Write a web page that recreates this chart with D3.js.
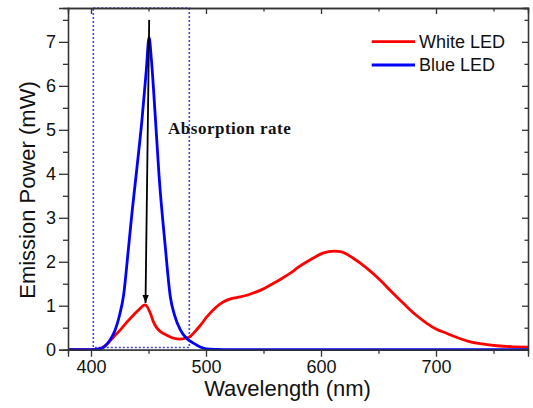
<!DOCTYPE html>
<html>
<head>
<meta charset="utf-8">
<script src="https://cdn.jsdelivr.net/npm/d3@7"></script>
<style>
  html, body { margin: 0; padding: 0; background: #fff; }
  svg { display: block; }
</style>
</head>
<body>
<svg id="chart" width="533" height="408"></svg>
<script>
// Emission spectra (wavelength in nm, power in mW)
const whiteWavelength = [380, 400, 405, 410, 414, 420, 425.5, 431, 437, 442, 447, 451.6, 454, 457.4, 461, 466, 472, 477.7, 482, 486.3, 490, 495, 500.9, 508, 515.3, 522, 529.8, 537, 544.3, 551, 558.8, 566, 573.3, 580, 587.8, 595, 602.3, 611, 617, 628, 640, 651.6, 662, 671.8, 682, 692, 700, 709.6, 720, 729.8, 740, 753, 765, 780];
const whitePower      = [0, 0, 0.01, 0.05, 0.13, 0.3, 0.45, 0.62, 0.79, 0.92, 1.02, 0.83, 0.65, 0.49, 0.4, 0.33, 0.26, 0.24, 0.26, 0.3, 0.4, 0.55, 0.75, 0.95, 1.09, 1.16, 1.2, 1.25, 1.32, 1.4, 1.51, 1.62, 1.74, 1.87, 2.0, 2.11, 2.2, 2.24, 2.23, 2.08, 1.85, 1.58, 1.3, 1.05, 0.8, 0.6, 0.47, 0.37, 0.26, 0.18, 0.13, 0.09, 0.07, 0.06];

const blueWavelength = [380, 400, 405, 410, 413, 417, 421, 425, 428.4, 432.7, 436, 440, 444.3, 448.1, 450.5, 452.5, 455.9, 459.2, 464.6, 469, 472.5, 477.7, 483, 489, 495, 500, 510, 520, 780];
const bluePower      = [0, 0, 0.01, 0.04, 0.1, 0.24, 0.45, 0.8, 1.25, 2.34, 3.2, 4.15, 5.22, 6.36, 7.1, 6.6, 5.3, 3.95, 2.34, 1.2, 0.8, 0.45, 0.26, 0.15, 0.06, 0.02, 0.005, 0, 0];

const seriesNames = ["White LED", "Blue LED"];
const seriesColors = ["#ff0000", "#0000ff"];

const xMajorTicks = [400, 500, 600, 700];
const xMinorTicks = [450, 550, 650, 750];
const yMajorTicks = [0, 1, 2, 3, 4, 5, 6, 7];
const yMinorTicks = [0.5, 1.5, 2.5, 3.5, 4.5, 5.5, 6.5, 7.5];

// Region of interest around the blue emission band
const boxRange = { x0: 402, x1: 485.5, y0: 0.05 };
// Absorption arrow: from the blue peak down to the white-LED blue peak
const arrowFrom = [450.6, 7.5];
const arrowTo = [447.4, 1.06];
const annotation = { text: "Absorption rate", x: 467, y: 4.9 };

const svg = d3.select("#chart");
const plotLeft = 68, plotRight = 528, plotTop = 8, plotBottom = 349.7;

const x = d3.scaleLinear().domain([380, 780]).range([plotLeft, plotRight]);
const y = d3.scaleLinear().domain([0, 7.77]).range([plotBottom, plotTop]);

const axisColor = "#333";

// dotted box
svg.append("rect")
  .attr("x", x(boxRange.x0))
  .attr("y", plotTop)
  .attr("width", x(boxRange.x1) - x(boxRange.x0))
  .attr("height", y(boxRange.y0) - plotTop)
  .attr("fill", "none")
  .attr("stroke", "#4646ff")
  .attr("stroke-width", 1.6)
  .attr("stroke-dasharray", "2,2");

// curves
const line = d3.line().x(d => x(d[0])).y(d => y(d[1])).curve(d3.curveMonotoneX);
const whiteData = whiteWavelength.map((w, i) => [w, whitePower[i]]);
const blueData = blueWavelength.map((w, i) => [w, bluePower[i]]);

svg.append("path").datum(whiteData)
  .attr("d", line).attr("fill", "none")
  .attr("stroke", seriesColors[0]).attr("stroke-width", 2.8).attr("stroke-linejoin", "round");
svg.append("path").datum(blueData)
  .attr("d", line).attr("fill", "none")
  .attr("stroke", seriesColors[1]).attr("stroke-width", 2.8).attr("stroke-linejoin", "round");

// arrow
svg.append("defs").append("marker")
  .attr("id", "arrowhead")
  .attr("viewBox", "0 0 10 10")
  .attr("refX", 10).attr("refY", 5)
  .attr("markerWidth", 4.5).attr("markerHeight", 3.5)
  .attr("markerUnits", "strokeWidth")
  .attr("orient", "auto")
  .attr("preserveAspectRatio", "none")
  .append("path").attr("d", "M0,0 L10,5 L0,10 Z").attr("fill", "#000");

svg.append("line")
  .attr("x1", x(arrowFrom[0])).attr("y1", y(arrowFrom[1]))
  .attr("x2", x(arrowTo[0])).attr("y2", y(arrowTo[1]))
  .attr("stroke", "#000").attr("stroke-width", 1.8)
  .attr("marker-end", "url(#arrowhead)");

svg.append("text")
  .attr("x", x(annotation.x)).attr("y", y(annotation.y))
  .attr("font-family", "'Times New Roman', 'Liberation Serif', serif")
  .attr("font-weight", "bold")
  .attr("font-size", 17)
  .attr("letter-spacing", 0.5)
  .attr("fill", "#111")
  .text(annotation.text);

// axes
function styleAxis(g) {
  g.select(".domain").attr("stroke", axisColor).attr("stroke-width", 1.3);
  g.selectAll(".tick line").attr("stroke", axisColor).attr("stroke-width", 1.3);
  g.selectAll(".tick text")
    .attr("font-family", "Arial, 'Liberation Sans', sans-serif")
    .attr("font-size", 18).attr("fill", "#111");
}

// bottom
svg.append("g").attr("transform", `translate(0,${plotBottom})`)
  .call(d3.axisBottom(x).tickValues(xMajorTicks).tickSize(7).tickPadding(4).tickFormat(d3.format("d")))
  .call(styleAxis);
svg.append("g").attr("transform", `translate(0,${plotBottom})`)
  .call(d3.axisBottom(x).tickValues(xMinorTicks).tickSize(4).tickFormat(""))
  .call(styleAxis);
// top (inward ticks)
svg.append("g").attr("transform", `translate(0,${plotTop})`)
  .call(d3.axisTop(x).tickValues(xMajorTicks).tickSize(-6).tickFormat(""))
  .call(styleAxis);
svg.append("g").attr("transform", `translate(0,${plotTop})`)
  .call(d3.axisTop(x).tickValues(xMinorTicks).tickSize(-3.5).tickFormat(""))
  .call(styleAxis);
// left
svg.append("g").attr("transform", `translate(${plotLeft},0)`)
  .call(d3.axisLeft(y).tickValues(yMajorTicks).tickSize(9).tickPadding(3).tickFormat(d3.format("d")))
  .call(styleAxis);
svg.append("g").attr("transform", `translate(${plotLeft},0)`)
  .call(d3.axisLeft(y).tickValues(yMinorTicks).tickSize(5).tickFormat(""))
  .call(styleAxis);
// right (inward ticks)
svg.append("g").attr("transform", `translate(${plotRight},0)`)
  .call(d3.axisRight(y).tickValues(yMajorTicks).tickSize(-6).tickFormat(""))
  .call(styleAxis);
svg.append("g").attr("transform", `translate(${plotRight},0)`)
  .call(d3.axisRight(y).tickValues(yMinorTicks).tickSize(-3.5).tickFormat(""))
  .call(styleAxis);

// axis titles
svg.append("text")
  .attr("x", 287.5).attr("y", 396)
  .attr("text-anchor", "middle")
  .attr("font-family", "Arial, 'Liberation Sans', sans-serif")
  .attr("font-size", 22).attr("fill", "#111")
  .text("Wavelength (nm)");
svg.append("text")
  .attr("transform", "translate(35,190) rotate(-90)")
  .attr("text-anchor", "middle")
  .attr("font-family", "Arial, 'Liberation Sans', sans-serif")
  .attr("font-size", 22).attr("fill", "#111")
  .text("Emission Power (mW)");

// legend
const legend = svg.append("g");
const legendRows = [41.7, 65];
seriesNames.forEach((name, i) => {
  legend.append("line")
    .attr("x1", 371.7).attr("x2", 415)
    .attr("y1", legendRows[i]).attr("y2", legendRows[i])
    .attr("stroke", seriesColors[i]).attr("stroke-width", 2.8);
  legend.append("text")
    .attr("x", 419).attr("y", legendRows[i] + 6.3)
    .attr("font-family", "Arial, 'Liberation Sans', sans-serif")
    .attr("font-size", 18).attr("fill", "#111")
    .text(name);
});
</script>
</body>
</html>
